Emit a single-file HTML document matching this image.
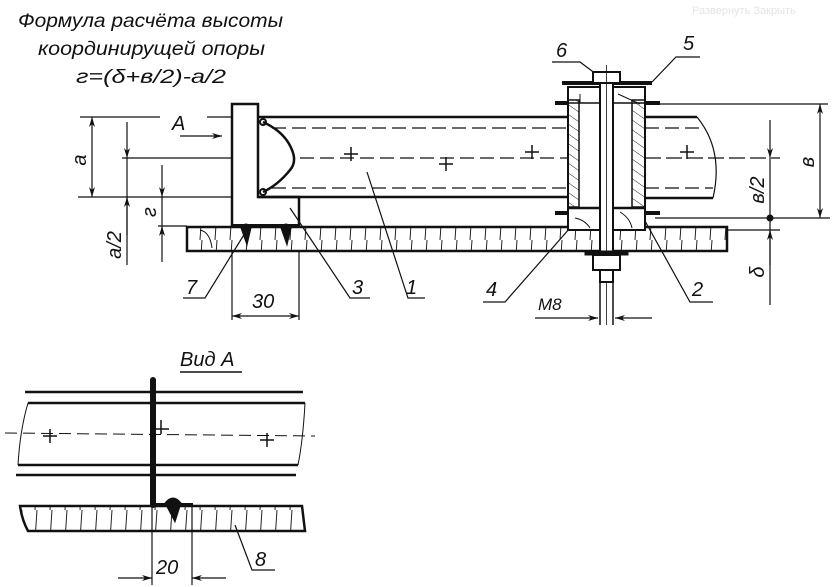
<!DOCTYPE html>
<html><head><meta charset="utf-8"><style>
html,body{margin:0;padding:0;background:#fff;}
svg{display:block;}
text{font-family:"Liberation Sans","DejaVu Sans",sans-serif;font-style:italic;fill:#111;}
</style></head><body>
<svg width="834" height="587" viewBox="0 0 834 587" xmlns="http://www.w3.org/2000/svg">
<defs>
<pattern id="vh" width="15" height="30" patternUnits="userSpaceOnUse"><line x1="7" y1="0" x2="5" y2="30" stroke="#222" stroke-width="1"/></pattern>
<pattern id="dh" width="8" height="8" patternUnits="userSpaceOnUse" patternTransform="rotate(-55)"><line x1="0" y1="0" x2="0" y2="8" stroke="#222" stroke-width="1"/></pattern>
<marker id="ar" viewBox="0 0 10 6" refX="10" refY="3" markerWidth="12" markerHeight="6" orient="auto-start-reverse" markerUnits="userSpaceOnUse"><path d="M0,0 L10,3 L0,6 L3,3 Z" fill="#111"/></marker>
</defs>
<text x="692" y="14" font-size="11" style="fill:#e4e4e4;font-style:normal">Развернуть  Закрыть</text>
<text x="18" y="27" font-size="19.5" textLength="265" lengthAdjust="spacingAndGlyphs">Формула расчёта высоты</text>
<text x="38" y="55" font-size="19.5" textLength="227" lengthAdjust="spacingAndGlyphs">координирущей опоры</text>
<text x="76" y="83" font-size="19.5" textLength="150" lengthAdjust="spacingAndGlyphs">г=(δ+в/2)-а/2</text>

<g stroke="#111" fill="none">
<rect x="187" y="227" width="540" height="24" fill="url(#vh)" stroke-width="2.5"/>
<path d="M200,230 Q210,232 212,248" stroke-width="1"/>
<line x1="258" y1="117" x2="568" y2="117" stroke-width="2.5"/>
<line x1="258" y1="197" x2="568" y2="197" stroke-width="2.5"/>
<line x1="645" y1="117" x2="697" y2="117" stroke-width="2.5"/>
<line x1="645" y1="198" x2="713" y2="198" stroke-width="2.5"/>
<path d="M697,117 Q724,150 713,198" stroke-width="1.2"/>
<g stroke-dasharray="14,6" stroke-width="1.2">
<line x1="272" y1="128" x2="568" y2="128"/><line x1="272" y1="188" x2="568" y2="188"/>
<line x1="645" y1="128" x2="705" y2="128"/><line x1="645" y1="188" x2="713" y2="188"/>
<line x1="300" y1="158" x2="568" y2="158"/>
</g>
<line x1="645" y1="158" x2="780" y2="158" stroke-width="1.2" stroke-dasharray="16,5"/>
<path d="M232,226 V104 H258 V197 H299 V226" stroke-width="2.5"/>
<path d="M263,122 Q285,132 292,150 Q297,162 290,170 Q278,185 263,192" stroke-width="2.5"/>
<circle cx="263" cy="122" r="3" stroke-width="2"/><circle cx="263" cy="192" r="3" stroke-width="2"/>
<line x1="232" y1="226" x2="299" y2="226" stroke-width="4"/>
<path d="M241,228 Q246,220 251,228 L247,245 Z M281,228 Q286,220 291,228 L287,245 Z" fill="#111" stroke-width="1"/>
<line x1="80" y1="117" x2="160" y2="117" stroke-width="1.2"/>
<line x1="207" y1="117" x2="232" y2="117" stroke-width="1.2"/>
<line x1="78" y1="197" x2="232" y2="197" stroke-width="1.2"/>
<line x1="122" y1="158" x2="232" y2="158" stroke-width="1.2"/>
<line x1="158" y1="226" x2="187" y2="226" stroke-width="1.2"/>
<line x1="92" y1="117" x2="92" y2="197" marker-start="url(#ar)" marker-end="url(#ar)" stroke-width="1.2"/>
<line x1="127" y1="122" x2="127" y2="158" marker-end="url(#ar)" stroke-width="1.2"/>
<line x1="127" y1="235" x2="127" y2="197" marker-end="url(#ar)" stroke-width="1.2"/>
<line x1="127" y1="158" x2="127" y2="265" stroke-width="1.2"/>
<line x1="162" y1="165" x2="162" y2="197" marker-end="url(#ar)" stroke-width="1.2"/>
<line x1="162" y1="262" x2="162" y2="226" marker-end="url(#ar)" stroke-width="1.2"/>
<line x1="162" y1="197" x2="162" y2="226" stroke-width="1.2"/>
<line x1="180" y1="136" x2="222" y2="136" marker-end="url(#ar)" stroke-width="1.2"/>
<line x1="232" y1="250" x2="232" y2="320" stroke-width="1.2"/>
<line x1="299" y1="250" x2="299" y2="320" stroke-width="1.2"/>
<line x1="232" y1="316" x2="299" y2="316" marker-start="url(#ar)" marker-end="url(#ar)" stroke-width="1.2"/>
<path d="M183,298 H205 L245,233" stroke-width="1.2"/>
<path d="M370,298 H350 L290,208" stroke-width="1.2"/>
<path d="M425,298 H408 L367,172" stroke-width="1.2"/>
<path d="M483,302 H505 L577,220" stroke-width="1.2"/>
<path d="M713,302 H690 L640,212" stroke-width="1.2"/>
<path d="M552,62 H580 L600,77" stroke-width="1.2"/>
<path d="M700,57 H676 L652,82" stroke-width="1.2"/>
<rect x="568" y="87" width="77" height="143" fill="#fff" stroke-width="2"/>
<rect x="568" y="100" width="11" height="107" fill="url(#dh)" stroke-width="1.5"/>
<rect x="632" y="100" width="13" height="107" fill="url(#dh)" stroke-width="1.5"/>
<line x1="568" y1="103" x2="645" y2="103" stroke-width="1.5"/>
<line x1="568" y1="208" x2="645" y2="208" stroke-width="2.5"/>
<line x1="562" y1="83" x2="652" y2="83" stroke-width="4"/>
<line x1="555" y1="103" x2="568" y2="103" stroke-width="4"/>
<line x1="645" y1="103" x2="660" y2="103" stroke-width="4"/>
<line x1="555" y1="213" x2="568" y2="213" stroke-width="4"/>
<line x1="645" y1="213" x2="660" y2="213" stroke-width="4"/>
<path d="M618,94 L640,104 M580,94 L580,103" stroke-width="1"/>
<path d="M620,212 Q630,218 632,228 M590,228 Q585,220 575,218" stroke-width="1"/>
<rect x="593" y="72" width="27" height="11" fill="#fff" stroke-width="2"/>
<rect x="600" y="83" width="13" height="177" fill="#fff" stroke-width="2"/>
<line x1="606.5" y1="65" x2="606.5" y2="325" stroke-width="0.8"/>
<rect x="585" y="251" width="43" height="4" fill="#111" stroke-width="1"/>
<rect x="593" y="255" width="27" height="15" fill="#fff" stroke-width="2"/>
<rect x="600" y="270" width="13" height="12" fill="#fff" stroke-width="2"/>
<line x1="600" y1="282" x2="600" y2="325" stroke-width="1.5"/><line x1="613" y1="282" x2="613" y2="325" stroke-width="1.5"/>
<line x1="535" y1="318" x2="598" y2="318" marker-end="url(#ar)" stroke-width="1.2"/>
<line x1="652" y1="318" x2="615" y2="318" marker-end="url(#ar)" stroke-width="1.2"/>
<g stroke-width="1.5">
<path d="M344,154 h14 M351,147 v14 M439,164 h14 M446,157 v14 M525,152 h14 M532,145 v14 M680,152 h14 M687,145 v14"/>
</g>
<line x1="660" y1="104" x2="828" y2="104" stroke-width="1.2"/>
<line x1="655" y1="218" x2="830" y2="218" stroke-width="1.2"/>
<line x1="727" y1="230" x2="780" y2="230" stroke-width="1.2"/>
<line x1="820" y1="104" x2="820" y2="218" marker-start="url(#ar)" marker-end="url(#ar)" stroke-width="1.2"/>
<line x1="770" y1="120" x2="770" y2="158" marker-end="url(#ar)" stroke-width="1.2"/>
<line x1="770" y1="158" x2="770" y2="218" stroke-width="1.2"/>
<line x1="770" y1="265" x2="770" y2="230" marker-end="url(#ar)" stroke-width="1.2"/>
<line x1="770" y1="218" x2="770" y2="305" stroke-width="1.2"/>
<circle cx="770" cy="218" r="3" fill="#111"/>

<line x1="180" y1="372" x2="242" y2="372" stroke-width="1.5"/>
<line x1="25" y1="392" x2="303" y2="392" stroke-width="2.5"/>
<line x1="28" y1="403" x2="305" y2="403" stroke-width="2.5"/>
<line x1="18" y1="465" x2="298" y2="465" stroke-width="2.5"/>
<line x1="16" y1="475" x2="296" y2="475" stroke-width="2.5"/>
<path d="M28,403 Q20,430 18,465" stroke-width="1"/>
<path d="M305,403 Q303,440 298,465" stroke-width="1"/>
<line x1="5" y1="433" x2="315" y2="436" stroke-dasharray="12,6" stroke-width="1"/>
<path d="M43,436 h14 M50,429 v14 M155,429 h14 M161,420 v14 M260,440 h14 M267,433 v14" stroke-width="1.5"/>
<path d="M20,506 H302 L305,531 H28 Q22,520 20,506 Z" fill="url(#vh)" stroke-width="2.5"/>
<path d="M153,380 V505" stroke-width="6" stroke-linecap="round"/>
<path d="M153,505 H193" stroke-width="4"/>
<path d="M165,503 Q173,493 181,503 L175,522 Z" fill="#111" stroke-width="1"/>
<line x1="152" y1="505" x2="152" y2="585" stroke-width="1.2"/>
<line x1="192" y1="505" x2="192" y2="585" stroke-width="1.2"/>
<line x1="118" y1="578" x2="152" y2="578" marker-end="url(#ar)" stroke-width="1.2"/>
<line x1="226" y1="578" x2="192" y2="578" marker-end="url(#ar)" stroke-width="1.2"/>
<path d="M235,525 L252,570 H275" stroke-width="1.2"/>
</g>

<g font-size="20">
<text x="172" y="130">A</text>
<text x="186" y="294">7</text>
<text x="352" y="294">3</text>
<text x="406" y="294">1</text>
<text x="486" y="296">4</text>
<text x="692" y="296">2</text>
<text x="556" y="57">6</text>
<text x="683" y="50">5</text>
<text x="252" y="308">30</text>
<text x="538" y="310" font-size="17">M8</text>
<text x="180" y="366">Вид А</text>
<text x="156" y="574">20</text>
<text x="255" y="566">8</text>
<text transform="translate(86,160) rotate(-90)" text-anchor="middle">а</text>
<text transform="translate(121,245) rotate(-90)" text-anchor="middle">а/2</text>
<text transform="translate(156,212) rotate(-90)" text-anchor="middle">г</text>
<text transform="translate(814,162) rotate(-90)" text-anchor="middle">в</text>
<text transform="translate(764,190) rotate(-90)" text-anchor="middle">в/2</text>
<text transform="translate(764,272) rotate(-90)" text-anchor="middle">δ</text>
</g>
</svg>
</body></html>
